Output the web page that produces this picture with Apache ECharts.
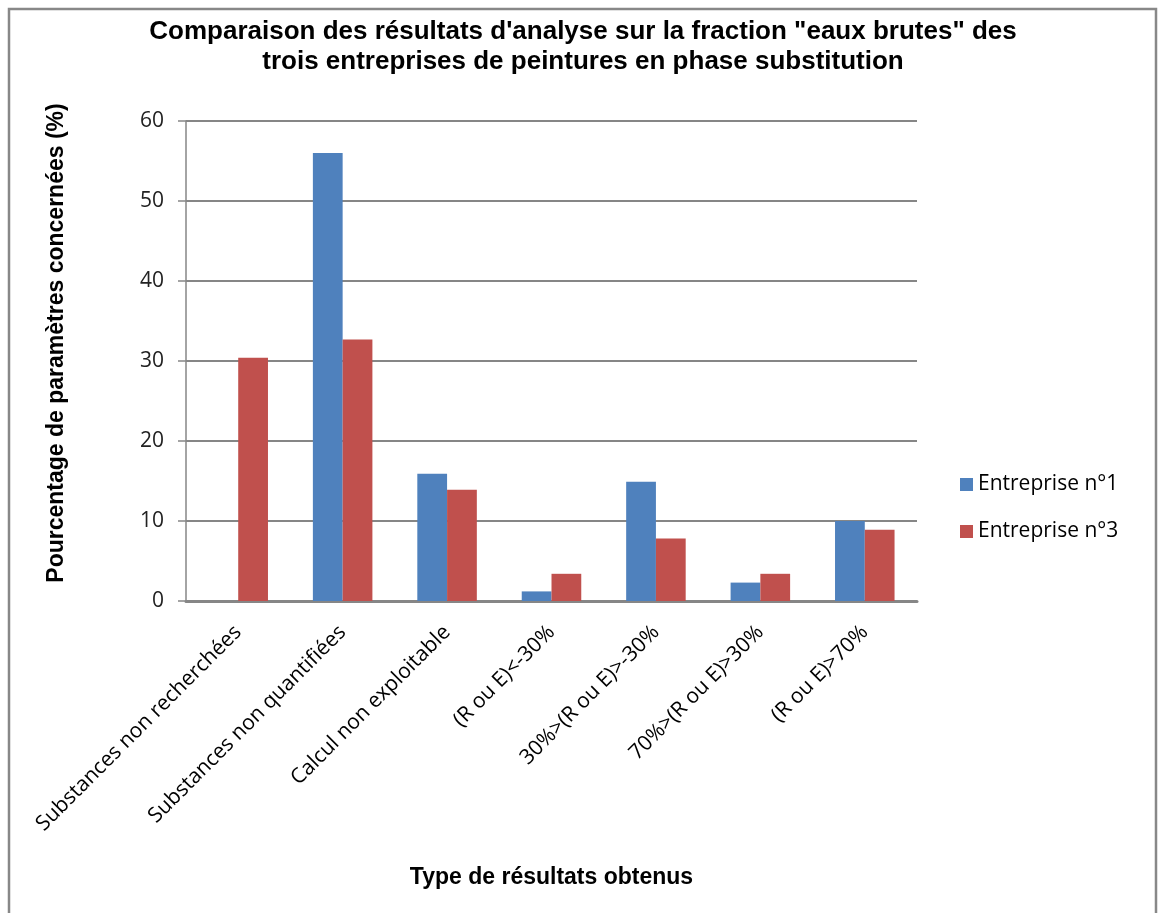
<!DOCTYPE html>
<html>
<head>
<meta charset="utf-8">
<script src="https://cdn.jsdelivr.net/npm/echarts@6/dist/echarts.min.js"></script>
<style>
  html, body { margin: 0; padding: 0; background: #ffffff; }
  #chart { width: 1161px; height: 913px; }
</style>
</head>
<body>
<div id="chart"></div>
<script>
// Types of analysis results (x categories)
const categories = [
  'Substances non recherchées',
  'Substances non quantifiées',
  'Calcul non exploitable',
  '(R ou E)<-30%',
  '30%>(R ou E)>-30%',
  '70%>(R ou E)>30%',
  '(R ou E)>70%'
];

// Percentage of parameters concerned, per company
const entreprise1 = [0, 56.0, 15.9, 1.2, 14.9, 2.3, 10.0];
const entreprise3 = [30.4, 32.7, 13.9, 3.4, 7.8, 3.4, 8.9];

const seriesNames = ['Entreprise n°1', 'Entreprise n°3'];
const yTicks = { min: 0, max: 60, interval: 10 };
const yAxisTitle = 'Pourcentage de paramètres concernées (%)';

const chart = echarts.init(document.getElementById('chart'), null, { renderer: 'canvas' });

const axisGray = '#868686';
const labelFont = '"Open Sans", "Noto Sans", sans-serif';
const boldFont = '"Liberation Sans", Arial, sans-serif';

chart.setOption({
  animation: false,
  backgroundColor: '#ffffff',
  title: {
    text: 'Comparaison des résultats d\'analyse sur la fraction "eaux brutes" des\ntrois entreprises de peintures en phase substitution',
    left: 578,
    top: 12,
    textAlign: 'center',
    textStyle: {
      fontFamily: boldFont,
      fontWeight: 'bold',
      fontSize: 26,
      lineHeight: 30,
      color: '#000000'
    }
  },
  legend: {
    orient: 'vertical',
    left: 960,
    top: 474,
    padding: 0,
    itemWidth: 13,
    itemHeight: 13,
    itemGap: 26,
    itemTextGap: 6,
    icon: 'rect',
    textStyle: {
      fontFamily: labelFont,
      fontSize: 21,
      color: '#000000'
    },
    data: seriesNames
  },
  grid: {
    left: 186,
    right: 244,
    top: 121,
    bottom: 312,
    containLabel: false
  },
  xAxis: {
    type: 'category',
    data: categories,
    name: 'Type de résultats obtenus',
    nameLocation: 'middle',
    nameGap: 265,
    nameTextStyle: {
      fontFamily: boldFont,
      fontWeight: 'bold',
      fontSize: 23,
      color: '#000000'
    },
    axisLine: { show: true, lineStyle: { color: axisGray, width: 3 } },
    axisTick: { show: false },
    axisLabel: {
      rotate: 45,
      interval: 0,
      margin: 28,
      fontFamily: labelFont,
      fontSize: 21,
      color: '#000000'
    }
  },
  yAxis: {
    type: 'value',
    min: yTicks.min,
    max: yTicks.max,
    interval: yTicks.interval,
    axisLine: { show: true, lineStyle: { color: axisGray, width: 1.5 } },
    axisTick: { show: true, length: 8, lineStyle: { color: axisGray, width: 1.5 } },
    axisLabel: {
      margin: 22,
      fontFamily: labelFont,
      fontSize: 21,
      color: '#222222'
    },
    splitLine: { show: true, lineStyle: { color: axisGray, width: 2 } }
  },
  series: [
    {
      name: seriesNames[0],
      type: 'bar',
      data: entreprise1,
      itemStyle: { color: '#4F81BD' },
      barGap: '0%',
      barCategoryGap: '43%'
    },
    {
      name: seriesNames[1],
      type: 'bar',
      data: entreprise3,
      itemStyle: { color: '#C0504D' },
      barGap: '0%',
      barCategoryGap: '43%'
    }
  ],
  graphic: [
    {
      // vertical axis title
      type: 'text',
      x: 57,
      y: 343,
      rotation: Math.PI / 2,
      style: {
        text: yAxisTitle,
        fontFamily: boldFont,
        fontWeight: 'bold',
        fontSize: 23,
        fill: '#000000',
        align: 'center',
        verticalAlign: 'middle'
      },
      silent: true
    },
    {
      // outer chart frame
      type: 'rect',
      shape: { x: 9, y: 9, width: 1147, height: 920 },
      style: { fill: 'none', stroke: '#888888', lineWidth: 2.5 },
      silent: true,
      z: 100
    }
  ]
});
</script>
</body>
</html>
